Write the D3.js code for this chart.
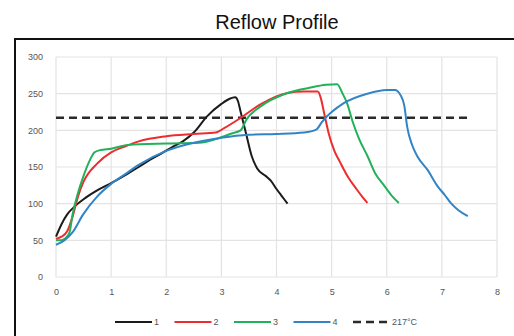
<!DOCTYPE html>
<html>
<head>
<meta charset="utf-8">
<script src="https://cdn.jsdelivr.net/npm/d3@7"></script>
<style>
  body { margin: 0; background: #fff; }
  svg { display: block; font-family: "Liberation Sans", Arial, sans-serif; }
</style>
</head>
<body>
<div id="chart"></div>
<script>
// Reflow profile, temperature (°C) vs time (min)

// series data
const names = ["1", "2", "3", "4"];
const colors = ["#1b1b1b", "#ec2d2f", "#22b15a", "#3185c6"];

const series1 = [[0,55],[0.1,72],[0.2,85],[0.35,97],[0.5,106],[0.77,119],[1,128],[1.28,140],[1.5,150],[1.71,160],[1.9,168],[2.13,178],[2.3,185],[2.5,197],[2.74,219],[3,236],[3.15,243],[3.25,245],[3.3,240],[3.35,225],[3.45,195],[3.55,165],[3.65,148],[3.8,138],[3.9,131],[4,120],[4.1,110],[4.2,100]];
const series2 = [[0,52],[0.1,55],[0.2,62],[0.3,82],[0.4,110],[0.5,130],[0.75,155],[1,170],[1.25,178],[1.5,185],[2,192],[2.5,195],[2.9,197],[3.05,203],[3.35,217],[3.7,235],[4.2,251],[4.5,253],[4.75,253],[4.8,245],[4.86,225],[4.95,195],[5.05,172],[5.15,157],[5.3,136],[5.45,120],[5.55,110],[5.65,101]];
const series3 = [[0,50],[0.1,50],[0.2,55],[0.25,62],[0.3,85],[0.4,115],[0.5,138],[0.6,157],[0.7,170],[0.8,173],[1,175],[1.3,180],[2,182],[2.6,183],[2.9,188],[3.2,196],[3.35,200],[3.45,214],[3.7,232],[4.2,251],[4.6,258],[4.9,262],[5.1,263],[5.2,250],[5.28,237],[5.38,212],[5.5,188],[5.65,165],[5.8,140],[5.95,125],[6.1,110],[6.22,101]];
const series4 = [[0,44],[0.15,50],[0.31,62],[0.49,85],[0.75,110],[1,127],[1.25,140],[1.5,153],[2,172],[2.5,183],[3,190],[3.5,194],[4,195],[4.5,197],[4.72,201],[4.83,212],[5.22,237],[5.65,250],[6,255],[6.15,255],[6.25,248],[6.32,233],[6.37,205],[6.46,180],[6.56,164],[6.74,146],[6.92,124],[7.05,112],[7.16,101],[7.3,91],[7.47,83]];
const allSeries = [series1, series2, series3, series4];

const refTemp = 217;
const refSpan = [0, 7.5];
const refLabel = "217°C";

const xTicks = [0, 1, 2, 3, 4, 5, 6, 7, 8];
const yTicks = [0, 50, 100, 150, 200, 250, 300];

const title = "Reflow Profile";

// layout
const W = 514, H = 336;
const plot = {left: 56, right: 497, top: 57, bottom: 277};

const svg = d3.select("#chart").append("svg")
    .attr("width", W)
    .attr("height", H);

svg.append("rect").attr("width", W).attr("height", H).attr("fill", "#fff");

// outer frame, cut off at the right and bottom
svg.append("rect")
    .attr("x", 15).attr("y", 39)
    .attr("width", W + 10).attr("height", H)
    .attr("fill", "#fff")
    .attr("stroke", "#111")
    .attr("stroke-width", 2);

svg.append("text")
    .attr("x", 277).attr("y", 29)
    .attr("text-anchor", "middle")
    .attr("font-size", 20)
    .attr("fill", "#111")
    .text(title);

const x = d3.scaleLinear().domain([0, 8]).range([plot.left, plot.right]);
const y = d3.scaleLinear().domain([0, 300]).range([plot.bottom, plot.top]);

// gridlines
svg.append("g")
    .selectAll("line")
    .data(xTicks)
    .join("line")
    .attr("x1", d => x(d)).attr("x2", d => x(d))
    .attr("y1", y(0)).attr("y2", y(300))
    .attr("stroke", "#e3e3e3").attr("stroke-width", 1.2);

svg.append("g")
    .selectAll("line")
    .data(yTicks)
    .join("line")
    .attr("x1", x(0)).attr("x2", x(8))
    .attr("y1", d => y(d)).attr("y2", d => y(d))
    .attr("stroke", "#e3e3e3").attr("stroke-width", 1.2);

// axes, labels only
const xAxis = svg.append("g")
    .attr("transform", "translate(0," + (plot.bottom + 8) + ")")
    .call(d3.axisBottom(x).tickValues(xTicks).tickSize(0).tickPadding(4));
const yAxis = svg.append("g")
    .attr("transform", "translate(" + (plot.left - 9) + ",0)")
    .call(d3.axisLeft(y).tickValues(yTicks).tickSize(0).tickPadding(4));
[xAxis, yAxis].forEach(a => {
    a.select(".domain").remove();
    a.selectAll("text")
        .attr("font-size", 9)
        .attr("font-family", "Liberation Sans, Arial, sans-serif")
        .attr("fill", "#555");
});

// reference line
svg.append("line")
    .attr("x1", x(refSpan[0])).attr("x2", x(refSpan[1]))
    .attr("y1", y(refTemp)).attr("y2", y(refTemp))
    .attr("stroke", "#2a2a2a")
    .attr("stroke-width", 2.5)
    .attr("stroke-dasharray", "8,5");

// curves
const line = d3.line()
    .x(d => x(d[0]))
    .y(d => y(d[1]))
    .curve(d3.curveMonotoneX);

svg.append("g")
    .selectAll("path")
    .data(allSeries)
    .join("path")
    .attr("d", line)
    .attr("fill", "none")
    .attr("stroke", (d, i) => colors[i])
    .attr("stroke-width", 2)
    .attr("stroke-linejoin", "round");

// legend
const legendItems = names.map((n, i) => ({label: n, color: colors[i], dash: null}))
    .concat([{label: refLabel, color: "#2a2a2a", dash: "8,5"}]);

const legend = svg.append("g")
    .selectAll("g")
    .data(legendItems)
    .join("g")
    .attr("transform", (d, i) => "translate(" + (115 + i * 59.5) + ",322)");

legend.append("line")
    .attr("x1", 0).attr("x2", 37)
    .attr("stroke", d => d.color)
    .attr("stroke-width", d => d.dash ? 2.5 : 2)
    .attr("stroke-dasharray", d => d.dash);

legend.append("text")
    .attr("x", 39).attr("y", 3)
    .attr("font-size", 9)
    .attr("fill", "#555")
    .text(d => d.label);
</script>
</body>
</html>
